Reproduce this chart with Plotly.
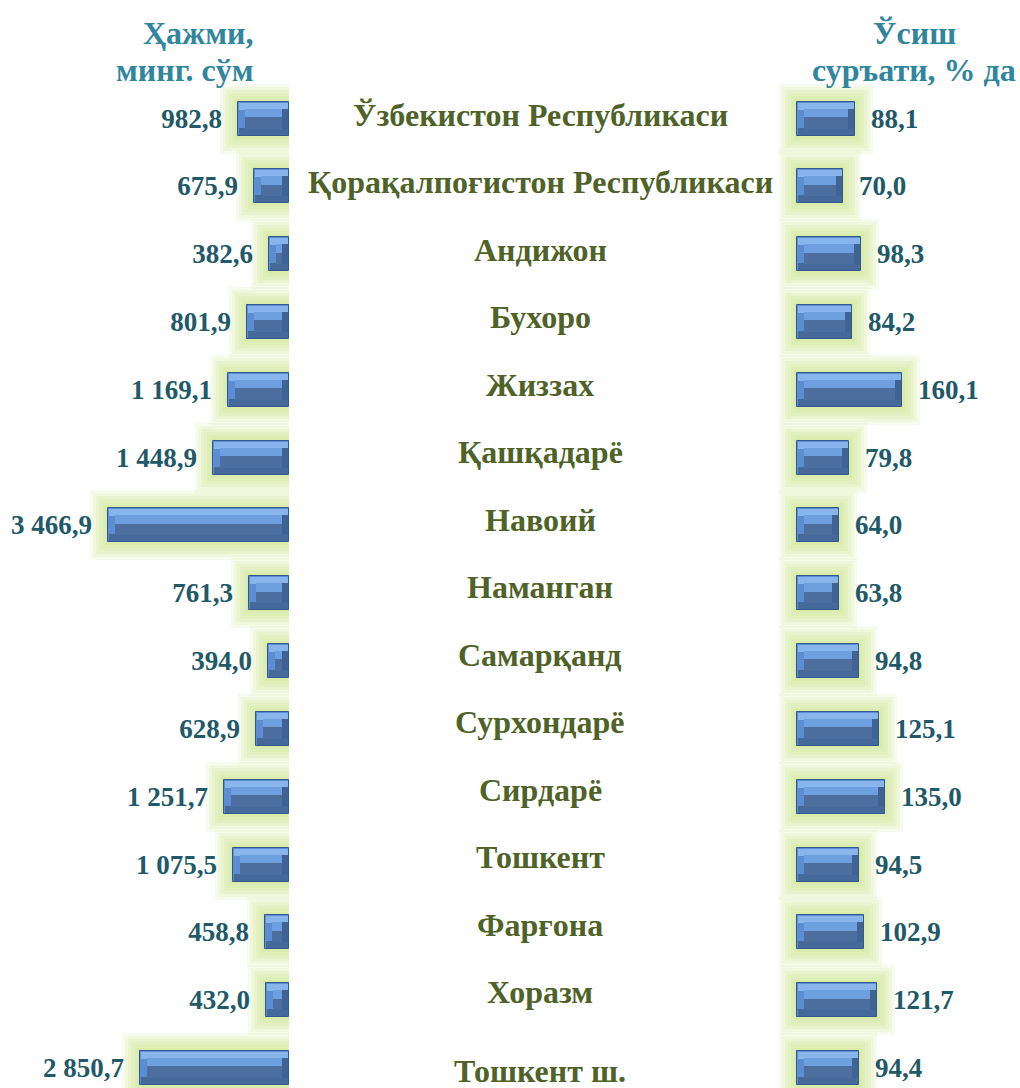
import plotly.graph_objects as go

regions = ["Ўзбекистон Республикаси", "Қорақалпоғистон Республикаси", "Андижон", "Бухоро",
           "Жиззах", "Қашқадарё", "Навоий", "Наманган", "Самарқанд", "Сурхондарё",
           "Сирдарё", "Тошкент", "Фарғона", "Хоразм", "Тошкент ш."]
volume = [982.8, 675.9, 382.6, 801.9, 1169.1, 1448.9, 3466.9, 761.3, 394.0, 628.9,
          1251.7, 1075.5, 458.8, 432.0, 2850.7]
growth = [88.1, 70.0, 98.3, 84.2, 160.1, 79.8, 64.0, 63.8, 94.8, 125.1,
          135.0, 94.5, 102.9, 121.7, 94.4]
header_left = ["Ҳажми,", "минг. сўм"]
header_right = ["Ўсиш", "суръати, % да"]

W, H = 1020, 1088
FONT = "Liberation Serif"
VAL_COLOR = "#215968"
CAT_COLOR = "#4F6228"
HEAD_COLOR = "#31859C"

def fmt(v):
    return f"{v:,.1f}".replace(",", " ").replace(".", ",")

idx = list(range(len(regions)))

# pixel scales
L_ZERO_PX = 289.0
L_PX_PER_UNIT = 181.0 / 3466.9
L_MAX = L_ZERO_PX / L_PX_PER_UNIT
R_ZERO_PX = 797.0
R_LEFT_PX = 778.0
R_PX_PER_UNIT = 0.655
R_MIN = -(R_ZERO_PX - R_LEFT_PX) / R_PX_PER_UNIT
R_MAX = (W - R_ZERO_PX) / R_PX_PER_UNIT
ROW0, ROWSTEP = 118.5, 67.82
Y_TOP = -ROW0 / ROWSTEP
Y_BOT = (H - ROW0) / ROWSTEP
UY = 1.0 / ROWSTEP  # data units per vertical pixel

fig = go.Figure()

def bar(values, xa, x, base, width, offset, color, line=None):
    kw = {}
    if offset is not None:
        kw["offset"] = offset
    fig.add_trace(go.Bar(
        y=idx, x=x, base=base, orientation="h", width=width, xaxis=xa, yaxis="y",
        marker=dict(color=color, line=line or dict(width=0)),
        hoverinfo="skip", showlegend=False, **kw))

def add_side(values, xa, px_per_unit, right_is_base):
    u = 1.0 / px_per_unit
    n = len(values)
    bh = 34 * UY
    bev = 7
    # soft glow layers
    for ext in [18, 15, 12, 9, 6, 3]:
        bar(values, xa, [v + 2 * ext * u for v in values], [-ext * u] * n,
            (34 + 2 * ext) * UY, None, "rgba(190,222,110,0.12)")
    # base body (side bevel tone) with border
    bar(values, xa, values, None, bh, None, "#5C8DD3",
        dict(color="#33588C", width=1))
    # top bevel
    bar(values, xa, [v - 2 * u for v in values], [u] * n, bev * UY, -bh / 2 + UY,
        "#88B5EB")
    # bottom bevel
    bar(values, xa, [v - 2 * u for v in values], [u] * n, bev * UY, bh / 2 - (bev + 1) * UY,
        "#45699B")
    # right-hand bevel (darker)
    if right_is_base:
        rb_base = [u] * n
    else:
        rb_base = [v - bev * u for v in values]
    bar(values, xa, [(bev - 1) * u] * n, rb_base, bh - 2 * bev * UY, None, "#3F6394")
    # inner face: light upper part, darker lower part
    inner_x = [max(v - 2 * bev * u, 1.5 * u) for v in values]
    inner_base = [bev * u] * n
    hf = bh - 2 * bev * UY
    bar(values, xa, inner_x, inner_base, hf * 0.42, -hf / 2, "#6E9FDE")
    bar(values, xa, inner_x, inner_base, hf * 0.58, -hf / 2 + hf * 0.42, "#4C6F9F")
    # invisible bar carrying value labels
    fig.add_trace(go.Bar(
        y=idx, x=[v + 13 * u for v in values], orientation="h", width=bh, xaxis=xa, yaxis="y",
        marker=dict(color="rgba(0,0,0,0)", line=dict(width=0)),
        text=[fmt(v) for v in values], textposition="outside", cliponaxis=False,
        constraintext="none",
        textfont=dict(family=FONT, size=27, color=VAL_COLOR, weight="bold"),
        hoverinfo="skip", showlegend=False))

add_side(volume, "x", L_PX_PER_UNIT, True)
add_side(growth, "x2", R_PX_PER_UNIT, False)

annotations = []
for i, name in enumerate(regions):
    annotations.append(dict(
        x=540 / W, xref="paper", y=i, yref="y", text=name, showarrow=False,
        xanchor="center", yanchor="middle", yshift=(-3 if i == len(regions) - 1 else 4 + 0.3 * i),
        font=dict(family=FONT, size=32, color=CAT_COLOR, weight="bold")))

for k, t in enumerate(header_left):
    annotations.append(dict(
        x=256 / W, xref="paper", y=1 - (33 + 37 * k) / H, yref="paper", text=t,
        showarrow=False, xanchor="right", yanchor="middle",
        font=dict(family=FONT, size=32, color=HEAD_COLOR, weight="bold")))
for k, t in enumerate(header_right):
    annotations.append(dict(
        x=914 / W, xref="paper", y=1 - (33 + 37 * k) / H, yref="paper", text=t,
        showarrow=False, xanchor="center", yanchor="middle",
        font=dict(family=FONT, size=32, color=HEAD_COLOR, weight="bold")))

fig.update_layout(
    width=W, height=H, margin=dict(l=0, r=0, t=0, b=0, pad=0),
    paper_bgcolor="white", plot_bgcolor="white",
    barmode="overlay", bargap=0,
    xaxis=dict(domain=[0, L_ZERO_PX / W], range=[L_MAX, 0], visible=False, fixedrange=True),
    xaxis2=dict(domain=[R_LEFT_PX / W, 1], range=[R_MIN, R_MAX], visible=False, anchor="y", fixedrange=True),
    yaxis=dict(domain=[0, 1], range=[Y_BOT, Y_TOP], visible=False, fixedrange=True),
    annotations=annotations, showlegend=False,
)

fig.write_html("out.html", config={"displayModeBar": False},
               post_script="document.body.style.margin='0';document.body.style.overflow='hidden';")
